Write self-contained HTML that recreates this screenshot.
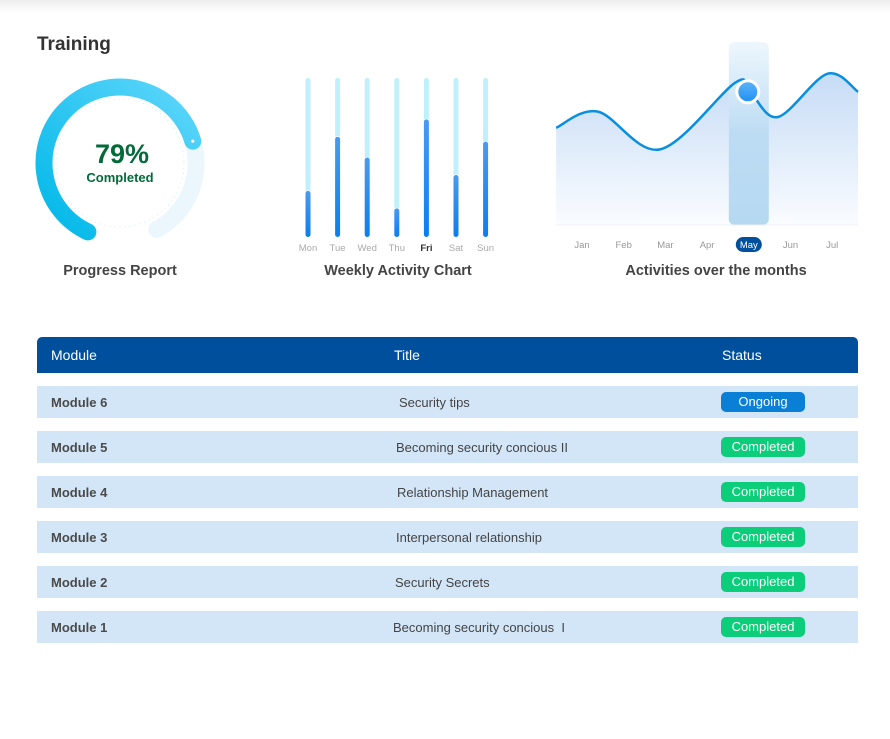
<!DOCTYPE html>
<html><head><meta charset="utf-8">
<style>
body{margin:0;width:890px;height:739px;background:#fff;font-family:"Liberation Sans",sans-serif;position:relative;overflow:hidden}
.topbar{position:absolute;left:0;top:0;width:890px;height:12px;background:linear-gradient(#ececec,#fff)}
.abs{position:absolute}
.cap{position:absolute;font-size:14.5px;font-weight:bold;color:#444;transform:translateX(-50%);white-space:nowrap;top:263px}
.hdr{position:absolute;left:37px;top:337px;width:821px;height:36px;background:#004f9c;border-radius:5px 5px 0 0;color:#fff;font-size:14px}
.hdr span{position:absolute;top:10px}
.row{position:absolute;left:37px;width:821px;height:32px;background:#d3e6f8;font-size:13px;color:#444}
.row .m{position:absolute;left:14px;top:9px;font-weight:bold;color:#4a4a4a}
.row .t{position:absolute;top:9px}
.badge{position:absolute;left:684px;top:6px;width:84px;height:20px;border-radius:5px;color:#fff;font-size:13px;text-align:center;line-height:20px}
</style></head><body>
<div class="topbar"></div>
<div class="abs" style="left:37px;top:34px;font-size:19px;font-weight:bold;color:#333">Training</div>

<svg class="abs" style="left:0;top:60px" width="250" height="200">
<defs><linearGradient id="gg" x1="0" y1="1" x2="1" y2="0"><stop offset="0" stop-color="#00b8e8"/><stop offset="1" stop-color="#5fd6fb"/></linearGradient></defs>
<circle cx="120" cy="103" r="64" fill="none" stroke="#cfeefa" stroke-width="1" stroke-dasharray="1 4"/>
<path id="track" fill="none" stroke="#ebf7fd" stroke-width="17" stroke-linecap="round"/>
<path id="prog" fill="none" stroke="url(#gg)" stroke-width="17" stroke-linecap="round"/>
<circle id="pdot" r="1.6" fill="#fff"/>
<text x="122" y="103" text-anchor="middle" font-size="27" font-weight="bold" fill="#036b3a" font-family="Liberation Sans">79%</text>
<text x="120" y="122" text-anchor="middle" font-size="13" font-weight="bold" fill="#036b3a" font-family="Liberation Sans">Completed</text>
</svg>
<div class="cap" style="left:120px">Progress Report</div>

<svg class="abs" id="weekly" style="left:280px;top:60px" width="240" height="200">
<defs><linearGradient id="bg" x1="0" y1="0" x2="0" y2="1"><stop offset="0" stop-color="#4a9af0"/><stop offset="1" stop-color="#0a7ef0"/></linearGradient></defs>
</svg>
<div class="cap" style="left:398px">Weekly Activity Chart</div>

<svg class="abs" id="monthly" style="left:540px;top:30px" width="340" height="230">
<defs>
<linearGradient id="ag" x1="0" y1="0" x2="0" y2="1"><stop offset="0" stop-color="#c6dcf6"/><stop offset="1" stop-color="#fafcff"/></linearGradient>
<linearGradient id="hg" x1="0" y1="0" x2="0" y2="1"><stop offset="0" stop-color="#eef7fd"/><stop offset="0.5" stop-color="#bcdcf3"/><stop offset="1" stop-color="#b6d9f2"/></linearGradient>
<linearGradient id="dg" x1="0" y1="0" x2="0" y2="1"><stop offset="0" stop-color="#5db4f8"/><stop offset="1" stop-color="#1e90f0"/></linearGradient>
</defs>
</svg>
<div class="cap" style="left:716px">Activities over the months</div>

<div class="hdr">
<span style="left:14px">Module</span>
<span style="left:357px">Title</span>
<span style="left:685px">Status</span>
</div>
<div id="rows"></div>

<script>
// Gauge
const gaugePercent = 79;
(function(){
 const cx=120, cy=103, r=76, a0=-155, a1=151, full=289;
 function pt(a){const t=a*Math.PI/180;return [cx+r*Math.sin(t), cy-r*Math.cos(t)];}
 function arc(s,e){const p=pt(s),q=pt(e);const large=(e-s)>180?1:0;return `M${p[0]},${p[1]} A${r},${r} 0 ${large} 1 ${q[0]},${q[1]}`;}
 const ae=a0+full*gaugePercent/100;
 document.getElementById('track').setAttribute('d',arc(a0,a1));
 document.getElementById('prog').setAttribute('d',arc(a0,ae));
 const d=pt(ae);const pd=document.getElementById('pdot');pd.setAttribute('cx',d[0]);pd.setAttribute('cy',d[1]);
})();

// Weekly bars
const days = ['Mon','Tue','Wed','Thu','Fri','Sat','Sun'];
const dayValues = [29, 63, 50, 18, 74, 39, 60];
const activeDay = 'Fri';
(function(){
 const svg=document.getElementById('weekly'), NS='http://www.w3.org/2000/svg';
 const top=18, bot=177, x0=28, step=29.6;
 const ys=v=>bot-(bot-top)*v/100;
 days.forEach((d,i)=>{
  const x=x0+i*step;
  const tr=document.createElementNS(NS,'rect');
  tr.setAttribute('x',x-2.5);tr.setAttribute('y',top);tr.setAttribute('width',5);tr.setAttribute('height',bot-top);tr.setAttribute('rx',2.5);tr.setAttribute('fill','#bff0fb');
  
  
  svg.appendChild(tr);
  const b=document.createElementNS(NS,'rect');
  const y=ys(dayValues[i]);
  b.setAttribute('x',x-2.5);b.setAttribute('y',y);b.setAttribute('width',5);b.setAttribute('height',bot-y);b.setAttribute('rx',2.5);b.setAttribute('fill','url(#bg)');
  b.setAttribute('stroke','#fff');b.setAttribute('stroke-width','1.5');b.setAttribute('paint-order','stroke');
  
  
  svg.appendChild(b);
  const t=document.createElementNS(NS,'text');
  t.setAttribute('x',x);t.setAttribute('y',191);t.setAttribute('text-anchor','middle');t.setAttribute('font-size','9.5');
  t.setAttribute('fill',d===activeDay?'#333':'#aaa');if(d===activeDay)t.setAttribute('font-weight','bold');
  t.setAttribute('font-family','Liberation Sans');t.textContent=d;
  
  
  svg.appendChild(t);
 });
})();

// Monthly line
const months = ['Jan','Feb','Mar','Apr','May','Jun','Jul'];
const samplePos = [-0.62, 0.38, 1.87, 3.67, 4.03, 4.7, 5.88, 6.62];
const sampleValues = [54, 63, 42, 79, 74, 60, 84, 74];
const highlightMonth = 4;
const highlightValue = 74;
(function(){
 const svg=document.getElementById('monthly'), NS='http://www.w3.org/2000/svg';
 const xs=m=>42+m*41.7, base=195, ys=v=>base-v*1.8;
 const h=document.createElementNS(NS,'rect');
 h.setAttribute('x',xs(highlightMonth)-20);h.setAttribute('y',12);h.setAttribute('width',40);h.setAttribute('height',base-12);h.setAttribute('rx',6);h.setAttribute('fill','url(#hg)');
 
 
 const P=samplePos.map((m,i)=>[xs(m),ys(sampleValues[i])]);
 let d=`M${P[0][0]},${P[0][1]}`;
 for(let i=0;i<P.length-1;i++){
  const p0=P[i-1]||P[i],p1=P[i],p2=P[i+1],p3=P[i+2]||P[i+1];
  const c1=[p1[0]+(p2[0]-p0[0])/6,p1[1]+(p2[1]-p0[1])/6];
  const c2=[p2[0]-(p3[0]-p1[0])/6,p2[1]-(p3[1]-p1[1])/6];
  d+=` C${c1[0]},${c1[1]} ${c2[0]},${c2[1]} ${p2[0]},${p2[1]}`;
 }
 const area=document.createElementNS(NS,'path');
 area.setAttribute('d',d+` L${P[P.length-1][0]},${base} L${P[0][0]},${base} Z`);area.setAttribute('fill','url(#ag)');
 
 
 svg.appendChild(area);
 svg.appendChild(h);
 const ax=document.createElementNS(NS,'line');
 ax.setAttribute('x1',P[0][0]);ax.setAttribute('x2',P[P.length-1][0]);ax.setAttribute('y1',base);ax.setAttribute('y2',base);ax.setAttribute('stroke','#eef0f3');
 
 
 svg.appendChild(ax);
 const line=document.createElementNS(NS,'path');
 line.setAttribute('d',d);line.setAttribute('fill','none');line.setAttribute('stroke','#0a8ee0');line.setAttribute('stroke-width','2.5');
 
 
 svg.appendChild(line);
 const c=document.createElementNS(NS,'circle');
 c.setAttribute('cx',xs(highlightMonth)-1);c.setAttribute('cy',ys(highlightValue));c.setAttribute('r',11);c.setAttribute('fill','url(#dg)');c.setAttribute('stroke','#fff');c.setAttribute('stroke-width','3');
 
 
 svg.appendChild(c);
 months.forEach((m,i)=>{
  const x=xs(i);
  if(i===highlightMonth){
   const pill=document.createElementNS(NS,'rect');
   pill.setAttribute('x',x-13);pill.setAttribute('y',207);pill.setAttribute('width',26);pill.setAttribute('height',15);pill.setAttribute('rx',7.5);pill.setAttribute('fill','#00509e');
   
   
   svg.appendChild(pill);
  }
  const t=document.createElementNS(NS,'text');
  t.setAttribute('x',x);t.setAttribute('y',218);t.setAttribute('text-anchor','middle');t.setAttribute('font-size','9.5');
  t.setAttribute('fill',i===highlightMonth?'#fff':'#999');t.setAttribute('font-family','Liberation Sans');t.textContent=m;
  
  
  svg.appendChild(t);
 });
})();

// Table
const modules = ['Module 6','Module 5','Module 4','Module 3','Module 2','Module 1'];
const titles = ['Security tips','Becoming security concious II','Relationship Management','Interpersonal relationship','Security Secrets','Becoming security concious  I'];
const statuses = ['Ongoing','Completed','Completed','Completed','Completed','Completed'];
(function(){
 const host=document.getElementById('rows');
 const tx=[362,359,360,359,358,356];
 modules.forEach((m,i)=>{
  const r=document.createElement('div');r.className='row';r.style.top=(386+i*45)+'px';
  
  
  const st=statuses[i];
  r.innerHTML=`<span class="m">${m}</span><span class="t" style="left:${tx[i]}px">${titles[i].replace(/  /g,' &nbsp;')}</span><span class="badge" style="background:${st==='Ongoing'?'#0a7fd6':'#0ccd7a'}">${st}</span>`;
  host.appendChild(r);
 });
})();
</script>
</body></html>
